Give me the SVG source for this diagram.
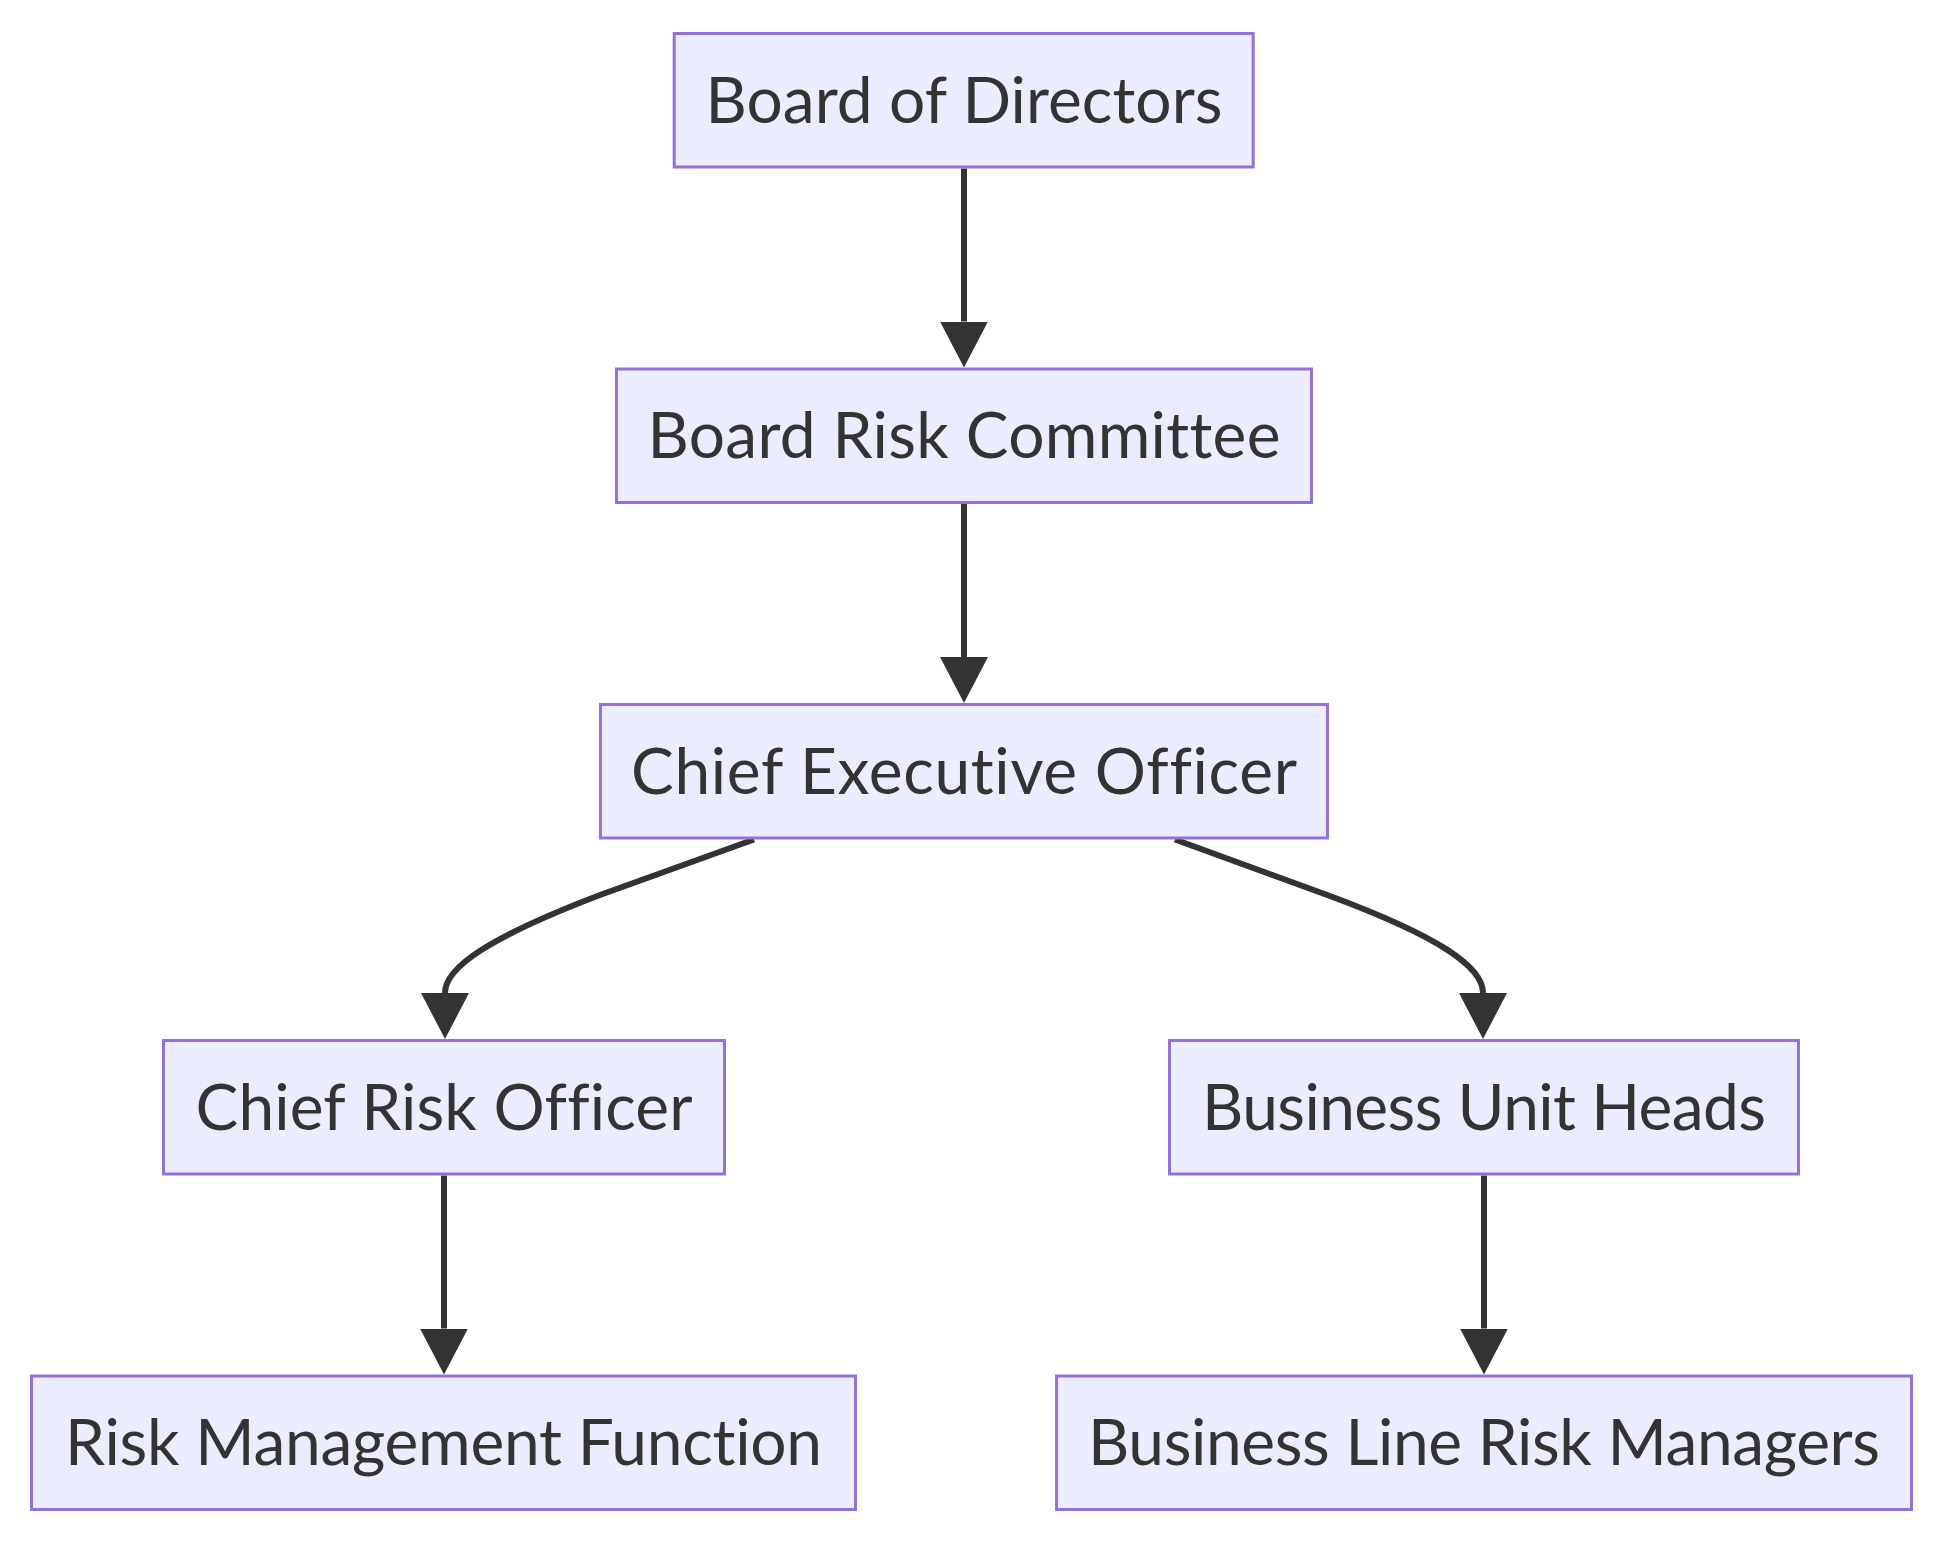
<svg xmlns="http://www.w3.org/2000/svg" width="1940" height="1544" viewBox="0 0 1940 1544">
<defs>
<style>
.node rect{fill:#ECECFF;stroke:#9370DB;stroke-width:3}
.node text{font-family:Lato,"Open Sans","Liberation Sans",sans-serif;font-size:64px;fill:#333333;text-anchor:middle;font-variant-ligatures:none;font-feature-settings:"liga" 0,"clig" 0}
.edge{fill:none;stroke:#333333;stroke-width:6;marker-end:url(#arrow)}
</style>
<marker id="arrow" markerUnits="userSpaceOnUse" viewBox="0 0 46 48" refX="0" refY="24" markerWidth="46" markerHeight="48" orient="auto">
<path d="M0,0 L46,24 L0,48 Z" fill="#333333"/>
</marker>
</defs>
<rect width="1940" height="1544" fill="#ffffff"/>
<g id="connectors">
<path class="edge" d="M964,168.5 L964,321.5"/>
<path class="edge" d="M964,504 L964,657"/>
<path class="edge" d="M754,839.5 L600,895 C490,937 445,967 445,993"/>
<path class="edge" d="M1175,839.5 L1330,896 C1440,937 1483,967 1483,993"/>
<path class="edge" d="M444,1175.5 L444,1328.5"/>
<path class="edge" d="M1484,1175.5 L1484,1328.5"/>
</g>
<g id="board" class="node">
<rect x="674.2" y="33.5" width="579" height="133.5"/>
<text x="964" y="122.5" textLength="517" lengthAdjust="spacing">Board of Directors</text>
</g>
<g id="risk-committee" class="node">
<rect x="616.5" y="369" width="695" height="133.5"/>
<text x="964" y="458" textLength="633" lengthAdjust="spacing">Board Risk Committee</text>
</g>
<g id="ceo" class="node">
<rect x="600.5" y="704.5" width="727" height="133.5"/>
<text x="964" y="793.5" textLength="666" lengthAdjust="spacing">Chief Executive Officer</text>
</g>
<g id="cro" class="node">
<rect x="163.5" y="1040.5" width="561" height="133.5"/>
<text x="444" y="1129.5" textLength="497" lengthAdjust="spacing">Chief Risk Officer</text>
</g>
<g id="bu-heads" class="node">
<rect x="1169.5" y="1040.5" width="629" height="133.5"/>
<text x="1484" y="1129.5" textLength="564" lengthAdjust="spacing">Business Unit Heads</text>
</g>
<g id="rmf" class="node">
<rect x="31.5" y="1376" width="824" height="133.5"/>
<text x="443.5" y="1465" textLength="757" lengthAdjust="spacing">Risk Management Function</text>
</g>
<g id="bl-risk" class="node">
<rect x="1056.5" y="1376" width="855" height="133.5"/>
<text x="1484" y="1465" textLength="792" lengthAdjust="spacing">Business Line Risk Managers</text>
</g>
</svg>
